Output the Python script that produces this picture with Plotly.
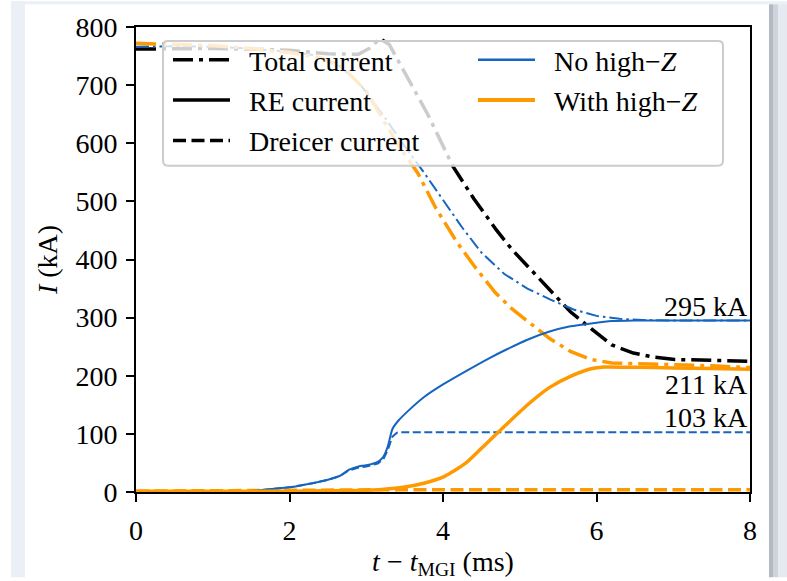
import plotly.graph_objects as go

# ---------------- data ----------------
t_blue_re = [0, 1.0, 1.3, 1.6, 2.0, 2.3, 2.5, 2.66, 2.77, 2.9, 3.0, 3.15, 3.22, 3.28, 3.34, 3.42,
             3.55, 3.75, 4.0, 4.3, 4.6, 4.84, 5.1, 5.39, 5.66, 5.93, 6.2, 6.5, 7.0, 8.0]
I_blue_re = [0, 0, 0.5, 3, 8, 15, 21, 28, 38, 44, 46, 52, 60, 78, 108, 123,
             140, 163, 185, 208, 230, 246, 262, 276, 285, 290, 294, 295, 295, 295]

t_blue_dr = [0, 1.0, 1.3, 1.6, 2.0, 2.3, 2.5, 2.66, 2.77, 2.9, 3.0, 3.15, 3.22, 3.28, 3.34, 3.4, 3.45, 8.0]
I_blue_dr = [0, 0, 0.5, 3, 8, 15, 21, 28, 37, 42, 44, 49, 56, 72, 95, 102, 103, 103]

t_blue_tot = [0, 0.5, 1.0, 1.5, 2.0, 2.3, 2.6, 2.9, 3.2, 3.5, 3.75, 4.0, 4.25, 4.5, 4.8,
              5.1, 5.4, 5.7, 6.0, 6.3, 6.6, 7.0, 8.0]
I_blue_tot = [766, 767, 766, 763, 757, 752, 738, 705, 652, 595, 550, 503, 455, 412, 375,
              350, 331, 314, 303, 298, 296, 295, 295]

t_or_re = [0, 2.0, 2.5, 3.0, 3.2, 3.48, 3.75, 4.02, 4.3, 4.57, 4.84, 5.11, 5.39, 5.66, 5.93,
           6.1, 6.5, 7.0, 7.5, 8.0]
I_or_re = [1.5, 1.5, 2, 3, 4.5, 8, 15, 27, 50, 84, 118, 151, 180, 199, 212,
           215, 214.5, 213.5, 212.5, 211]

t_or_dr = [0, 3.0, 3.5, 8.0]
I_or_dr = [1.5, 3, 4, 4]

t_or_tot = [0, 0.5, 1.0, 1.5, 2.0, 2.4, 2.7, 3.0, 3.2, 3.4, 3.67, 3.9, 4.18, 4.4, 4.68,
            4.9, 5.11, 5.39, 5.66, 5.93, 6.2, 6.6, 7.0, 7.5, 8.0]
I_or_tot = [772, 770, 768, 763, 756, 747, 730, 690, 645, 600, 549, 490, 430, 390, 343,
            315, 293, 264, 242, 228, 222, 220, 219, 217, 214]

t_exp_tot = [0, 0.5, 1.0, 1.5, 2.0, 2.5, 2.9, 3.05, 3.18, 3.3, 3.45, 3.6, 3.8, 4.13, 4.4,
             4.7, 4.9, 5.15, 5.39, 5.66, 5.93, 6.2, 6.48, 6.75, 7.02, 7.5, 8.0]
I_exp_tot = [762, 763, 763, 762, 760, 754, 753, 764, 780, 770, 735, 698, 650, 560, 505,
             450, 417, 382, 349, 310, 281, 253, 239, 232, 228, 226, 225]

final_vals = [295, 211, 103]
final_labels = ["295 kA", "211 kA", "103 kA"]

x_ticks = [0, 2, 4, 6, 8]
y_ticks = [0, 100, 200, 300, 400, 500, 600, 700, 800]

style_names = ["Total current", "RE current", "Dreicer current"]
case_names = ["No high\u2212<i>Z</i>", "With high\u2212<i>Z</i>"]

# ---------------- styling ----------------
BLUE = "#1565c0"
ORANGE = "#ff9900"
FONT = "Liberation Serif"
FS = 28
DD_THICK = "20px,6px,4px,6px"
DD_THIN = "13px,4px,2.5px,4px"
DASH_THICK = "13px,5.5px"
DASH_THIN = "8px,3.5px"
GAP = "\u2002"

W, H = 787, 581
L, R, T, B = 136, 37, 26, 86
PW, PH = W - L - R, H - T - B


def px(xp):
    return (xp - L) / PW


def py(yp):
    return (H - B - yp) / PH


fig = go.Figure()

# data traces
fig.add_trace(go.Scatter(x=t_exp_tot, y=I_exp_tot, mode="lines", showlegend=False,
                         line=dict(color="black", width=3.5, dash=DD_THICK)))
fig.add_trace(go.Scatter(x=t_blue_tot, y=I_blue_tot, mode="lines", showlegend=False,
                         line=dict(color=BLUE, width=2, dash=DD_THIN)))
fig.add_trace(go.Scatter(x=t_or_tot, y=I_or_tot, mode="lines", showlegend=False,
                         line=dict(color=ORANGE, width=3.5, dash=DD_THICK)))
fig.add_trace(go.Scatter(x=t_blue_dr, y=I_blue_dr, mode="lines", showlegend=False,
                         line=dict(color=BLUE, width=2, dash=DASH_THIN)))
fig.add_trace(go.Scatter(x=t_or_dr, y=I_or_dr, mode="lines", showlegend=False,
                         line=dict(color=ORANGE, width=3.5, dash=DASH_THICK)))
fig.add_trace(go.Scatter(x=t_blue_re, y=I_blue_re, mode="lines", showlegend=False,
                         line=dict(color=BLUE, width=2, shape="spline", smoothing=0.6)))
fig.add_trace(go.Scatter(x=t_or_re, y=I_or_re, mode="lines", showlegend=False,
                         line=dict(color=ORANGE, width=3.5, shape="spline", smoothing=0.6)))

# legend entries (style legend)
for name, dash in zip(style_names, [DD_THICK, "solid", DASH_THICK]):
    fig.add_trace(go.Scatter(x=[None], y=[None], mode="lines", name=GAP + name, legend="legend",
                             legendgroup=name,
                             line=dict(color="black", width=3.5, dash=dash)))
for name, col, w in zip(case_names, [BLUE, ORANGE], [2.5, 4]):
    fig.add_trace(go.Scatter(x=[None], y=[None], mode="lines", name=GAP + name, legend="legend2",
                             legendgroup=name,
                             line=dict(color=col, width=w)))

# annotations for final values
ann_y_shift = [14, -15, 15]
annotations = []
for v, lab, sh in zip(final_vals, final_labels, ann_y_shift):
    annotations.append(dict(x=8, y=v, xref="x", yref="y", text=lab, showarrow=False,
                            xanchor="right", yanchor="middle", yshift=sh,
                            font=dict(family=FONT, size=FS, color="black")))

# legend frame with rounded corners (semi-transparent)
x0, x1 = px(163), px(723)
y0, y1 = py(166), py(40)
rx, ry = 5 / PW, 5 / PH
frame_path = (f"M {x0+rx},{y1} L {x1-rx},{y1} Q {x1},{y1} {x1},{y1-ry} "
              f"L {x1},{y0+ry} Q {x1},{y0} {x1-rx},{y0} L {x0+rx},{y0} "
              f"Q {x0},{y0} {x0},{y0+ry} L {x0},{y1-ry} Q {x0},{y1} {x0+rx},{y1} Z")

shapes = [
    # page background strips
    dict(type="rect", xref="paper", yref="paper", x0=px(11), x1=px(25), y0=py(H), y1=py(0),
         fillcolor="#ebeff6", line=dict(width=0), layer="below"),
    dict(type="rect", xref="paper", yref="paper", x0=px(11), x1=px(W), y0=py(3), y1=py(0),
         fillcolor="#ebeff6", line=dict(width=0), layer="below"),
    dict(type="rect", xref="paper", yref="paper", x0=px(769), x1=px(773), y0=py(H), y1=py(3),
         fillcolor="#b4b9c3", line=dict(width=0), layer="below"),
    dict(type="rect", xref="paper", yref="paper", x0=px(773), x1=px(778), y0=py(H), y1=py(3),
         fillcolor="#cfd3db", line=dict(width=0), layer="below"),
    dict(type="rect", xref="paper", yref="paper", x0=px(778), x1=px(W), y0=py(H), y1=py(3),
         fillcolor="#e6e9f0", line=dict(width=0), layer="below"),
    dict(type="path", xref="paper", yref="paper", path=frame_path,
         fillcolor="rgba(255,255,255,0.8)", line=dict(color="#cccccc", width=2), layer="above"),
]

axis_common = dict(showgrid=False, zeroline=False, showline=True, linecolor="black",
                   linewidth=2, mirror=True, ticks="outside", ticklen=8, tickwidth=1.5,
                   tickcolor="black",
                   tickfont=dict(family=FONT, size=FS, color="black"))

fig.update_layout(
    width=W, height=H,
    margin=dict(l=L, r=R, t=T, b=B),
    paper_bgcolor="white", plot_bgcolor="white",
    font=dict(family=FONT, size=FS, color="black"),
    xaxis=dict(range=[0, 8], tickvals=x_ticks, ticklabelstandoff=4,
               title=dict(text="<i>t</i> \u2212 <i>t</i><sub>MGI</sub> (ms)",
                          font=dict(family=FONT, size=FS), standoff=4),
               **axis_common),
    yaxis=dict(range=[0, 800], tickvals=y_ticks, ticklabelstandoff=3,
               title=dict(text="<i>I</i> (kA)", font=dict(family=FONT, size=FS), standoff=10),
               **axis_common),
    legend=dict(x=px(168), y=py(34), xanchor="left", yanchor="top",
                bgcolor="rgba(0,0,0,0)", borderwidth=0, itemwidth=57,
                traceorder="grouped", tracegroupgap=1,
                font=dict(family=FONT, size=FS, color="black")),
    legend2=dict(x=px(473), y=py(34), xanchor="left", yanchor="top",
                 bgcolor="rgba(0,0,0,0)", borderwidth=0, itemwidth=57,
                 traceorder="grouped", tracegroupgap=1,
                 font=dict(family=FONT, size=FS, color="black")),
    shapes=shapes,
    annotations=annotations,
)

fig.write_html("out.html")
